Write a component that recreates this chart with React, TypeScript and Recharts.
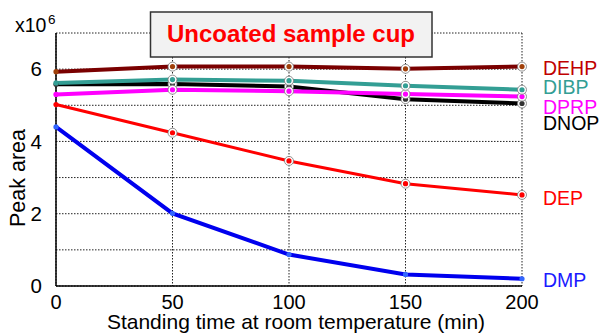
import React from 'react';
import { LineChart, Line, XAxis, YAxis, CartesianGrid, LabelList, Customized } from 'recharts';

const times = [0, 50, 100, 150, 200];
const DEHP = [5.93, 6.07, 6.07, 6.01, 6.07];
const DIBP = [5.62, 5.71, 5.68, 5.54, 5.43];
const DNOP = [5.58, 5.59, 5.52, 5.17, 5.05];
const DPRP = [5.3, 5.43, 5.39, 5.31, 5.24];
const DEP = [5.02, 4.24, 3.46, 2.83, 2.52];
const DMP = [4.4, 2.01, 0.87, 0.32, 0.2];
const xTicks = [0, 50, 100, 150, 200];
const yTicks = [0, 1, 2, 3, 4, 5, 6, 7];
const yLabeled = [0, 2, 4, 6];

const data = times.map((t, i) => ({
  t,
  DEHP: DEHP[i],
  DIBP: DIBP[i],
  DNOP: DNOP[i],
  DPRP: DPRP[i],
  DEP: DEP[i],
  DMP: DMP[i],
}));

const FONT = '"Liberation Sans", Arial, sans-serif';

type SeriesCfg = { key: string; line: string; dot: string; label: string; width: number; ring: boolean; dy: number };
const series: SeriesCfg[] = [
  { key: 'DNOP', line: '#000000', dot: '#333333', label: '#000000', width: 4, ring: true, dy: 27 },
  { key: 'DPRP', line: '#ff00ff', dot: '#ff00ff', label: '#ff00ff', width: 4, ring: true, dy: 17 },
  { key: 'DIBP', line: '#339e94', dot: '#339e94', label: '#339e94', width: 4, ring: true, dy: 4 },
  { key: 'DEHP', line: '#7a0000', dot: '#a0400a', label: '#c00000', width: 4, ring: true, dy: 8 },
  { key: 'DEP', line: '#ff0000', dot: '#ff0000', label: '#ff0000', width: 3, ring: true, dy: 10 },
  { key: 'DMP', line: '#0000ee', dot: '#3366ff', label: '#1a1aff', width: 4, ring: false, dy: 8 },
];

const makeDot = (s: SeriesCfg) => (props: any) => {
  const { cx, cy, index } = props;
  if (cx == null || cy == null) return <g key={index} />;
  return (
    <g key={`${s.key}-${index}`}>
      {s.ring && index > 0 && <circle cx={cx} cy={cy} r={4.5} fill="#ffffff" stroke="#777" strokeWidth={0.8} />}
      <circle cx={cx} cy={cy} r={2.6} fill={s.dot} />
    </g>
  );
};

const makeLabel = (s: SeriesCfg) => (props: any) => {
  const { x, y, index } = props;
  if (index !== times.length - 1) return null;
  return (
    <text x={Number(x) + 21} y={Number(y) + s.dy} fill={s.label} fontSize={19.5} fontFamily={FONT}>
      {s.key}
    </text>
  );
};

const Decor = () => (
  <g fontFamily={FONT}>
    <text x={15} y={32} fontSize={19.5} fill="#000">
      x10
    </text>
    <text x={48} y={24} fontSize={13.5} fill="#000">
      6
    </text>
    <rect x={150.5} y={12} width={281.5} height={45} fill="#f2f2f2" stroke="#333" strokeWidth={1.5} />
    <text x={291} y={42} fontSize={24} fontWeight="bold" fill="#ff0000" textAnchor="middle">
      Uncoated sample cup
    </text>
    <text x={25} y={178} fontSize={21.5} fill="#000" textAnchor="middle" transform="rotate(-90 25 178)">
      Peak area
    </text>
    <text x={296} y={329} fontSize={21} fill="#000" textAnchor="middle">
      Standing time at room temperature (min)
    </text>
  </g>
);

export default function App() {
  return (
    <div style={{ position: 'absolute', left: 0, top: 0, background: '#fff' }}>
      <LineChart width={600} height={334} data={data} margin={{ top: 33, right: 78, bottom: 0, left: 0 }}>
        <CartesianGrid stroke="#222" strokeDasharray="1.5 1.5" strokeWidth={1} />
        <XAxis
          dataKey="t"
          type="number"
          domain={[0, 200]}
          ticks={xTicks}
          height={48}
          tickLine={false}
          tickMargin={3}
          axisLine={{ stroke: '#000', strokeWidth: 1.5 }}
          tick={{ fill: '#000', fontSize: 20, fontFamily: FONT }}
        />
        <XAxis xAxisId="top" dataKey="t" type="number" domain={[0, 200]} orientation="top" height={0} tick={false} tickLine={false} axisLine={{ stroke: '#000', strokeWidth: 1.5 }} />
        <YAxis
          type="number"
          domain={[0, 7]}
          ticks={yTicks}
          width={56}
          tickLine={false}
          tickMargin={8}
          interval={0}
          axisLine={{ stroke: '#000', strokeWidth: 1.5 }}
          tickFormatter={(v: number) => (yLabeled.includes(v) ? String(v) : '')}
          tick={{ fill: '#000', fontSize: 20.5, fontFamily: FONT }}
        />
        <YAxis yAxisId="right" type="number" domain={[0, 7]} orientation="right" width={0} tick={false} tickLine={false} axisLine={{ stroke: '#000', strokeWidth: 1.5 }} />
        {series.map((s) => (
          <Line
            key={s.key}
            dataKey={s.key}
            type="linear"
            stroke={s.line}
            strokeWidth={s.width}
            dot={makeDot(s)}
            activeDot={false}
            isAnimationActive={false}
          >
            <LabelList dataKey={s.key} content={makeLabel(s)} />
          </Line>
        ))}
        <Customized component={Decor} />
      </LineChart>
    </div>
  );
}
